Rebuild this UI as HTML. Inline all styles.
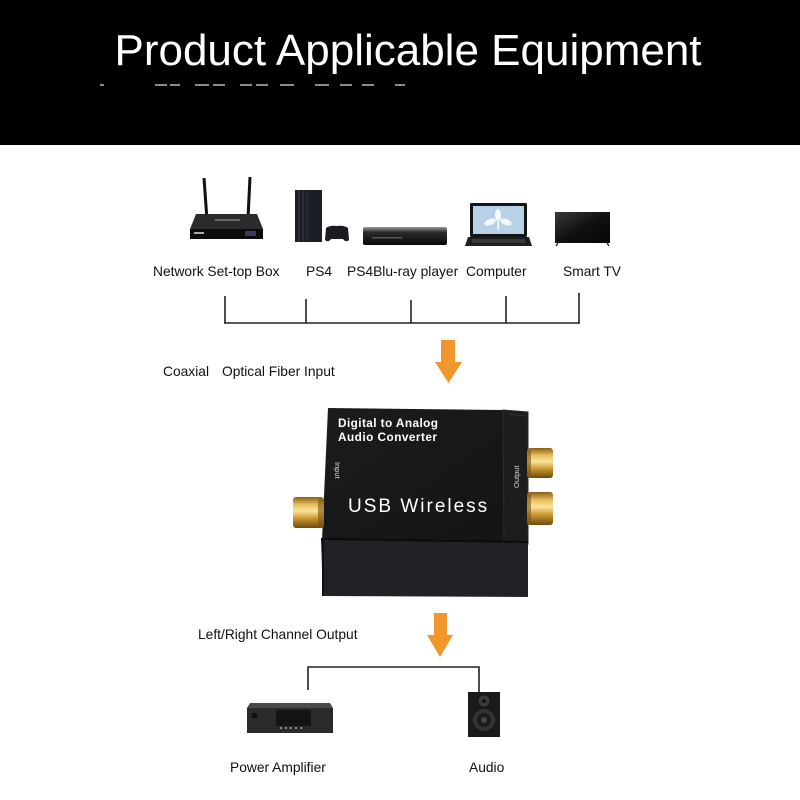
<!DOCTYPE html>
<html><head><meta charset="utf-8"><style>
html,body{margin:0;padding:0;background:#fff;}
svg{display:block;}
text{font-family:"Liberation Sans",sans-serif;}
</style></head><body>
<svg width="800" height="800" viewBox="0 0 800 800" xmlns="http://www.w3.org/2000/svg">
<defs>
<linearGradient id="gold" x1="0" y1="0" x2="0" y2="1">
<stop offset="0" stop-color="#8a5f14"/><stop offset="0.25" stop-color="#e8c060"/><stop offset="0.45" stop-color="#fbe49a"/><stop offset="0.7" stop-color="#c8952e"/><stop offset="1" stop-color="#6e4a0e"/>
</linearGradient>
<linearGradient id="boxtop" x1="0" y1="0" x2="1" y2="1">
<stop offset="0" stop-color="#1c1c1e"/><stop offset="1" stop-color="#141416"/>
</linearGradient>
<linearGradient id="tv" x1="0" y1="0" x2="1" y2="1">
<stop offset="0" stop-color="#3a3a3a"/><stop offset="0.5" stop-color="#111"/><stop offset="1" stop-color="#050505"/>
</linearGradient>
<linearGradient id="bluray" x1="0" y1="0" x2="0" y2="1">
<stop offset="0" stop-color="#9a9a9a"/><stop offset="0.3" stop-color="#2a2a2a"/><stop offset="1" stop-color="#080808"/>
</linearGradient>
</defs>

<!-- header -->
<rect x="0" y="0" width="800" height="145" fill="#000"/>
<text x="408" y="65" font-size="44" fill="#fff" text-anchor="middle">Product Applicable Equipment</text>
<g fill="#fff" opacity="0.55">
<rect x="100" y="84" width="4" height="2"/><rect x="155" y="84" width="12" height="2"/><rect x="170" y="84" width="10" height="2"/>
<rect x="195" y="84" width="14" height="2"/><rect x="213" y="84" width="12" height="2"/><rect x="240" y="84" width="12" height="2"/>
<rect x="256" y="84" width="12" height="2"/><rect x="280" y="84" width="14" height="2"/><rect x="315" y="84" width="14" height="2"/>
<rect x="340" y="84" width="12" height="2"/><rect x="362" y="84" width="12" height="2"/><rect x="395" y="84" width="10" height="2"/>
</g>

<!-- router -->
<line x1="204" y1="178" x2="207" y2="220" stroke="#111" stroke-width="3"/>
<line x1="250" y1="177" x2="248" y2="218" stroke="#111" stroke-width="3"/>
<polygon points="196,214 257,214 263,229 190,229" fill="#2b2b2d"/>
<rect x="190" y="229" width="73" height="10" fill="#0c0c0c"/>
<rect x="245" y="231" width="11" height="5" fill="#3a3a6a"/>
<rect x="194" y="232" width="10" height="2" fill="#aaa"/>
<rect x="215" y="219" width="25" height="2" fill="#666"/>

<!-- PS4 -->
<rect x="295" y="190" width="27" height="52" fill="#1c1e26"/>
<line x1="299" y1="190" x2="299" y2="242" stroke="#3a3d48" stroke-width="1"/>
<line x1="303" y1="190" x2="303" y2="242" stroke="#3a3d48" stroke-width="1"/>
<line x1="307" y1="190" x2="307" y2="242" stroke="#2e313a" stroke-width="1"/>
<path d="M326,228 Q330,225 337,226 Q344,225 348,228 L349,240 Q346,243 343,239 L331,239 Q328,243 325,240 Z" fill="#1a1c22"/>

<!-- Blu-ray -->
<rect x="363" y="227" width="84" height="18" rx="2" fill="url(#bluray)"/>
<rect x="372" y="237" width="30" height="1.5" fill="#555"/>

<!-- Laptop -->
<rect x="470" y="203" width="57" height="34" rx="1.5" fill="#141414"/>
<rect x="473" y="206" width="51" height="28" fill="#b9d1e6"/>
<g fill="#fff" opacity="0.85">
<ellipse cx="498" cy="215" rx="3" ry="6"/>
<ellipse cx="490" cy="222" rx="6" ry="3" transform="rotate(-20 490 222)"/>
<ellipse cx="506" cy="222" rx="6" ry="3" transform="rotate(20 506 222)"/>
<rect x="497.5" y="220" width="1.5" height="10"/>
</g>
<polygon points="468,237 529,237 532,246 465,246" fill="#1e1e1e"/>
<rect x="472" y="239" width="53" height="4" fill="#3a3a3a"/>

<!-- TV -->
<rect x="555" y="212" width="55" height="31" fill="url(#tv)"/>
<line x1="558" y1="243" x2="556" y2="246" stroke="#333" stroke-width="1.5"/>
<line x1="607" y1="243" x2="609" y2="246" stroke="#333" stroke-width="1.5"/>

<!-- labels row -->
<g font-size="13.8" fill="#111">
<text x="153" y="276">Network Set-top Box</text>
<text x="306" y="276">PS4</text>
<text x="347" y="276">PS4Blu-ray player</text>
<text x="466" y="276">Computer</text>
<text x="563" y="276">Smart TV</text>
</g>

<!-- top bracket -->
<g stroke="#222" stroke-width="1.6" fill="none">
<line x1="225" y1="296" x2="225" y2="323"/>
<line x1="306" y1="299" x2="306" y2="323"/>
<line x1="411" y1="300" x2="411" y2="323"/>
<line x1="506" y1="296" x2="506" y2="323"/>
<line x1="579" y1="293" x2="579" y2="323"/>
<line x1="224" y1="323" x2="580" y2="323"/>
</g>

<!-- arrow 1 -->
<polygon points="441,340 455,340 455,362 462,362 448.5,383 435,362 441,362" fill="#f0962a"/>

<g font-size="13.8" fill="#111">
<text x="163" y="376">Coaxial</text>
<text x="222" y="376">Optical Fiber Input</text>
</g>

<!-- converter -->
<polygon points="328,408 503,410 504,541 322,540" fill="url(#boxtop)"/>
<polygon points="503,410 528,412 528,544 504,541" fill="#1d1d20" stroke="#2c2c30" stroke-width="1"/>
<line x1="510" y1="414" x2="526" y2="416" stroke="#333" stroke-width="1"/>
<polygon points="321,539 528,542 528,597 323,596" fill="#222226"/>
<line x1="321" y1="539" x2="528" y2="542" stroke="#0c0c0c" stroke-width="2"/>
<rect x="322" y="540" width="2" height="56" fill="#111"/>
<!-- input jack -->
<rect x="293" y="497" width="31" height="31" rx="3" fill="url(#gold)"/>
<rect x="318" y="499" width="6" height="27" fill="#7a5412" opacity="0.6"/>
<!-- output jacks -->
<rect x="527" y="448" width="26" height="30" rx="3" fill="url(#gold)"/>
<rect x="527" y="492" width="26" height="33" rx="3" fill="url(#gold)"/>
<rect x="527" y="450" width="4" height="26" fill="#7a5412" opacity="0.6"/>
<rect x="527" y="494" width="4" height="29" fill="#7a5412" opacity="0.6"/>
<g fill="#fff" font-weight="bold" font-size="11.8">
<text x="338" y="427" textLength="100">Digital to Analog</text>
<text x="338" y="441" textLength="99">Audio Converter</text>
</g>
<text x="348" y="512" font-size="19" fill="#fff" letter-spacing="2">USB Wireless</text>
<text x="0" y="0" font-size="7.5" fill="#ddd" transform="translate(335,462) rotate(90)">Input</text>
<text x="0" y="0" font-size="7.5" fill="#ddd" transform="translate(519,488) rotate(-90)">Output</text>

<!-- arrow 2 -->
<polygon points="434,613 447,613 447,635 453,635 440,657 427,635 434,635" fill="#f0962a"/>

<text x="198" y="639" font-size="13.8" fill="#111">Left/Right Channel Output</text>

<!-- bottom bracket -->
<g stroke="#222" stroke-width="1.6" fill="none">
<polyline points="308,690 308,667 479,667 479,692"/>
</g>

<!-- amplifier -->
<polygon points="250,703 330,703 333,708 247,708" fill="#4a4a4c"/>
<rect x="247" y="708" width="86" height="25" fill="#2a2a2c"/>
<rect x="276" y="710" width="35" height="16" fill="#141416"/>
<rect x="252" y="713" width="5" height="5" fill="#111"/>
<g fill="#888"><rect x="280" y="727" width="2" height="2"/><rect x="285" y="727" width="2" height="2"/><rect x="290" y="727" width="2" height="2"/><rect x="295" y="727" width="2" height="2"/><rect x="300" y="727" width="2" height="2"/></g>

<!-- speaker -->
<rect x="468" y="692" width="32" height="45" fill="#1a1a1a"/>
<circle cx="484" cy="701" r="5.5" fill="#3a3a3a"/>
<circle cx="484" cy="701" r="2" fill="#111"/>
<circle cx="484" cy="720" r="11" fill="#333"/>
<circle cx="484" cy="720" r="7" fill="#1a1a1a"/>
<circle cx="484" cy="720" r="3" fill="#444"/>

<g font-size="13.8" fill="#111">
<text x="230" y="772">Power Amplifier</text>
<text x="469" y="772">Audio</text>
</g>
</svg>
</body></html>
